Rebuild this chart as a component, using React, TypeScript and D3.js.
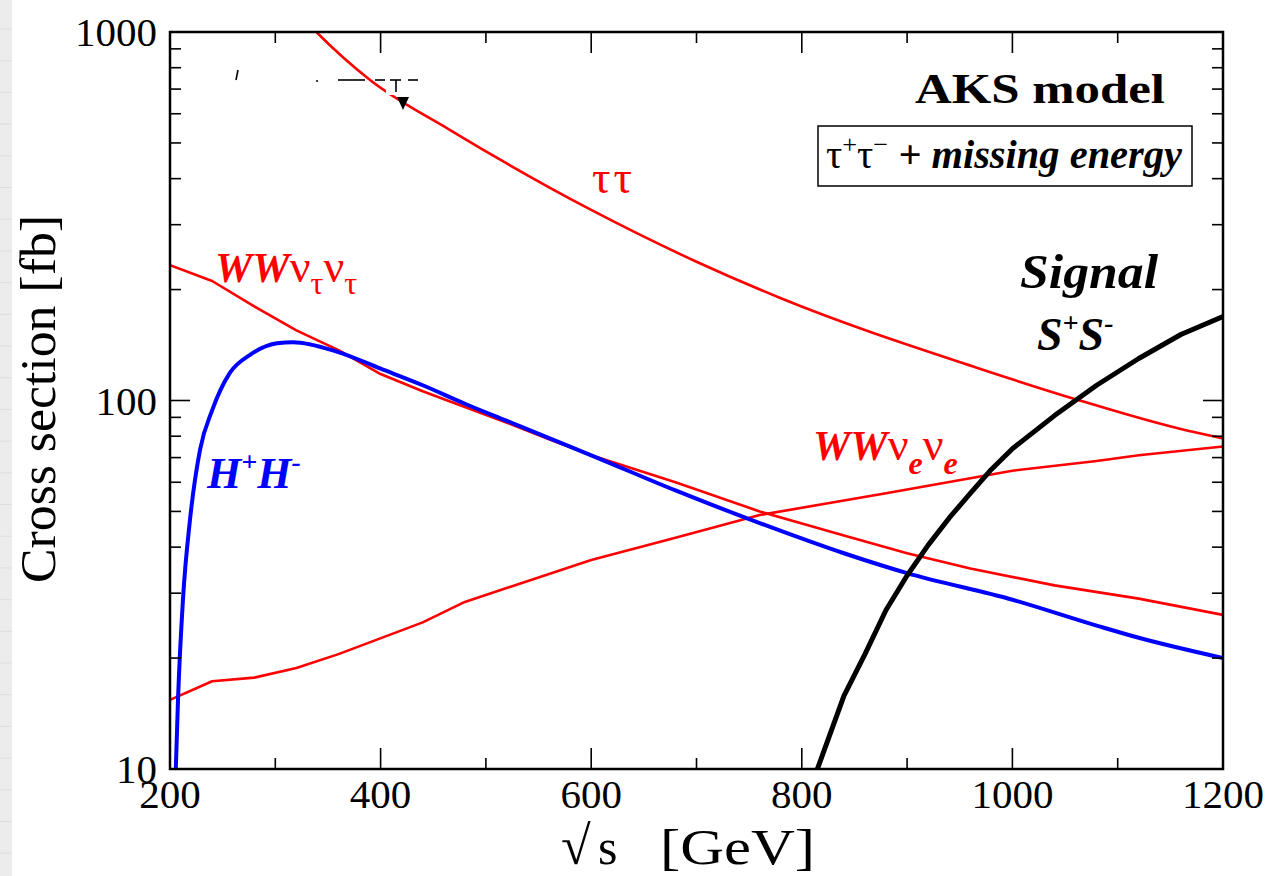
import React from "react";
import * as d3 from "d3";

// Cross sections vs. centre-of-mass energy, AKS model, tau+tau- + missing energy channel

const W = 1272;
const H = 876;

const xDomain = [200, 1200];
const yDomain = [10, 1000];

const xMajorTicks = [200, 400, 600, 800, 1000, 1200];
const xMinorTicks = [300, 500, 700, 900, 1100];
const yMajorTicks = [10, 100, 1000];
const yMinorTicks = [20, 30, 40, 50, 60, 70, 80, 90, 200, 300, 400, 500, 600, 700, 800, 900];
const xTickLabels = ["200", "400", "600", "800", "1000", "1200"];
const yTickLabels = ["10", "100", "1000"];

// tau tau background
const tautauE = [320, 339, 390, 466, 600, 700, 779, 969, 1064, 1159, 1200];
const tautauSigma = [1140, 1000, 741, 542, 329, 238, 190, 122, 100, 83.8, 78.9];

// W W nu_tau nu_tau background
const wwTauE = [200, 240, 280, 320, 360, 400, 440, 480, 520, 560, 600, 680, 760, 840, 900, 960, 1040, 1120, 1200];
const wwTauSigma = [233, 211, 180, 155, 137, 118, 106, 96, 87, 78.5, 71, 60, 50, 43, 38.5, 35, 31.5, 29, 26.2];

// W W nu_e nu_e background
const wwEE = [200, 240, 280, 320, 360, 440, 480, 600, 680, 760, 880, 1000, 1080, 1120, 1200];
const wwESigma = [15.4, 17.3, 17.7, 18.8, 20.5, 25, 28.4, 36.9, 42.4, 48.9, 56, 64.5, 68.5, 71, 75];

// charged Higgs pair H+H-
const hhE = [205, 207.6, 212.3, 219, 228.5, 240, 257, 276, 301.6, 317, 359, 400, 440, 480, 520, 560, 600, 680, 760, 840, 900, 1000, 1080, 1120, 1200];
const hhSigma = [9, 15.4, 28.8, 47.5, 73.5, 94, 119, 133, 143, 144, 135.5, 122, 110, 98, 88, 79, 71, 57, 46.5, 38.5, 34, 28.8, 24.5, 22.7, 20];

// signal S+S-
const sigE = [812, 840, 860, 880, 900, 920, 940, 960, 980, 1000, 1040, 1080, 1120, 1160, 1200];
const sigSigma = [9.5, 15.8, 20.5, 27, 33.5, 40.5, 48, 56, 65, 74, 91, 110, 130, 151, 169];

const serif = "'Liberation Serif', 'Times New Roman', Times, serif";

const x = d3.scaleLinear().domain(xDomain).range([170, 1223]);
const y = d3.scaleLog().domain(yDomain).range([769, 32]);

const straight = d3
  .line<[number, number]>()
  .x((d) => x(d[0]))
  .y((d) => y(d[1]))
  .curve(d3.curveLinear);

const smooth = d3
  .line<[number, number]>()
  .x((d) => x(d[0]))
  .y((d) => y(d[1]))
  .curve(d3.curveMonotoneX);

const zip = (a: number[], b: number[]) => a.map((v, i) => [v, b[i]] as [number, number]);

export default function App() {
  const [x0, x1] = x.range();
  const [y0, y1] = y.range(); // y0 bottom, y1 top
  const stripLines = d3.range(29, H, 31.7);

  return (
    <svg
      width={W}
      height={H}
      viewBox={`0 0 ${W} ${H}`}
      style={{ position: "absolute", left: 0, top: 0, background: "#fff" }}
      fontFamily={serif}
    >
      <defs>
        <clipPath id="plot-clip">
          <rect x={x0} y={y1} width={x1 - x0} height={y0 - y1} />
        </clipPath>
      </defs>

      {/* page edge strip */}
      <rect x={0} y={0} width={12} height={H} fill="#ececec" />
      {stripLines.map((v, i) => (
        <line key={i} x1={0} x2={12} y1={v} y2={v} stroke="#dedede" strokeWidth={1} />
      ))}

      {/* curves */}
      <g clipPath="url(#plot-clip)" fill="none" strokeLinejoin="round">
        <path d={smooth(zip(tautauE, tautauSigma)) || ""} stroke="#ff0000" strokeWidth={2.6} />
        <path d={straight(zip(wwTauE, wwTauSigma)) || ""} stroke="#ff0000" strokeWidth={2.6} />
        <path d={straight(zip(wwEE, wwESigma)) || ""} stroke="#ff0000" strokeWidth={2.6} />
        <path d={smooth(zip(hhE, hhSigma)) || ""} stroke="#0000ff" strokeWidth={4} />
        <path d={straight(zip(sigE, sigSigma)) || ""} stroke="#000000" strokeWidth={5} />
      </g>

      {/* leftover marks near the top of the frame */}
      <g stroke="#000" strokeWidth={1.6}>
        <line x1={236} y1={80} x2={238} y2={70} />
        <line x1={316} y1={81} x2={318} y2={81} />
        <line x1={338} y1={80} x2={365} y2={80} />
        <line x1={375} y1={80} x2={385} y2={80} />
        <line x1={390} y1={80} x2={401} y2={80} />
        <line x1={396} y1={80} x2={396} y2={92} />
        <line x1={408} y1={80} x2={418} y2={80} />
      </g>
      <rect x={386} y={86} width={9} height={9} fill="#fff" />
      <polygon points="397,97 409,97 403,110" fill="#000" />

      {/* frame */}
      <rect x={x0} y={y1} width={x1 - x0} height={y0 - y1} fill="none" stroke="#000" strokeWidth={2.5} />

      {/* ticks on all four sides, pointing inwards */}
      <g stroke="#000" strokeWidth={1.6}>
        {xMajorTicks.map((t) => (
          <g key={"xM" + t}>
            <line x1={x(t)} x2={x(t)} y1={y0} y2={y0 - 21} />
            <line x1={x(t)} x2={x(t)} y1={y1} y2={y1 + 21} />
          </g>
        ))}
        {xMinorTicks.map((t) => (
          <g key={"xm" + t}>
            <line x1={x(t)} x2={x(t)} y1={y0} y2={y0 - 11} />
            <line x1={x(t)} x2={x(t)} y1={y1} y2={y1 + 11} />
          </g>
        ))}
        {yMajorTicks.map((t) => (
          <g key={"yM" + t}>
            <line x1={x0} x2={x0 + 20} y1={y(t)} y2={y(t)} />
            <line x1={x1} x2={x1 - 20} y1={y(t)} y2={y(t)} />
          </g>
        ))}
        {yMinorTicks.map((t) => (
          <g key={"ym" + t}>
            <line x1={x0} x2={x0 + 11} y1={y(t)} y2={y(t)} />
            <line x1={x1} x2={x1 - 11} y1={y(t)} y2={y(t)} />
          </g>
        ))}
      </g>

      {/* tick labels */}
      <g fontSize={41} fill="#000">
        {xMajorTicks.map((t, i) => (
          <text key={"xl" + t} x={x(t)} y={808} textAnchor="middle">
            {xTickLabels[i]}
          </text>
        ))}
        {yMajorTicks.map((t, i) => (
          <text key={"yl" + t} x={157} y={y(t) + 14} textAnchor="end">
            {yTickLabels[i]}
          </text>
        ))}
      </g>

      {/* axis titles */}
      <text y={864} fontSize={50}>
        <tspan x={561} fontSize={54}>√</tspan>
        <tspan x={598}>s</tspan>
        <tspan x={660} textLength={155} lengthAdjust="spacingAndGlyphs">[GeV]</tspan>
      </text>
      <text
        transform={`translate(55, ${583}) rotate(-90)`}
        fontSize={50}
        textLength={368}
        lengthAdjust="spacingAndGlyphs"
      >
        Cross section [fb]
      </text>

      {/* annotations */}
      <text x={915} y={103} fontSize={42} fontWeight="bold" textLength={250} lengthAdjust="spacingAndGlyphs">
        AKS model
      </text>
      <rect x={818} y={126} width={374} height={60} fill="#fff" stroke="#000" strokeWidth={1.5} />
      <text x={826} y={168} fontSize={40} textLength={356} lengthAdjust="spacingAndGlyphs">
        <tspan>τ</tspan>
        <tspan dy={-15} fontSize={26}>+</tspan>
        <tspan dy={15}>τ</tspan>
        <tspan dy={-15} fontSize={26}>−</tspan>
        <tspan dy={15} fontWeight="bold" fontStyle="italic"> + missing energy</tspan>
      </text>

      <text x={592} y={193} fontSize={46} fill="#ff0000" letterSpacing={3}>
        ττ
      </text>

      <text x={215} y={282} fontSize={42} fill="#ff0000">
        <tspan fontWeight="bold" fontStyle="italic">WW</tspan>
        <tspan fontSize={46}>ν</tspan>
        <tspan dy={12} fontSize={32}>τ</tspan>
        <tspan dy={-12} fontSize={46}>ν</tspan>
        <tspan dy={12} fontSize={32}>τ</tspan>
      </text>

      <text x={813} y={460} fontSize={42} fill="#ff0000">
        <tspan fontWeight="bold" fontStyle="italic">WW</tspan>
        <tspan fontSize={46}>ν</tspan>
        <tspan dy={14} fontSize={32} fontWeight="bold" fontStyle="italic">e</tspan>
        <tspan dy={-14} fontSize={46}>ν</tspan>
        <tspan dy={14} fontSize={32} fontWeight="bold" fontStyle="italic">e</tspan>
      </text>

      <text x={207} y={488} fontSize={44} fill="#0000ff" fontWeight="bold" fontStyle="italic">
        <tspan>H</tspan>
        <tspan dy={-17} fontSize={28}>+</tspan>
        <tspan dy={17}>H</tspan>
        <tspan dy={-17} fontSize={28}>-</tspan>
      </text>

      <text x={1020} y={288} fontSize={48} fontWeight="bold" fontStyle="italic" textLength={138} lengthAdjust="spacingAndGlyphs">
        Signal
      </text>
      <text x={1037} y={350} fontSize={46} fontStyle="italic" fontWeight="bold">
        <tspan>S</tspan>
        <tspan dy={-18} fontSize={28}>+</tspan>
        <tspan dy={18}>S</tspan>
        <tspan dy={-18} fontSize={28}>-</tspan>
      </text>
    </svg>
  );
}
